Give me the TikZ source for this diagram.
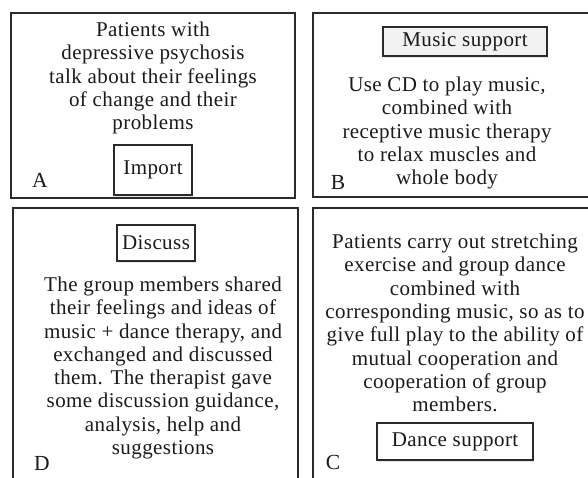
\documentclass[tikz,border=0pt]{standalone}
\usepackage{fontspec}
\setmainfont[LetterSpace=2]{Liberation Serif}
\usetikzlibrary{shadows}
\definecolor{boxline}{HTML}{2B2B2B}
\definecolor{txt}{HTML}{1A1A1A}
\definecolor{tagfill}{HTML}{F2F2F2}
\definecolor{shadowc}{HTML}{C9D6E8}
\begin{document}
\begin{tikzpicture}[x=1pt,y=-1pt,
  panel/.style={draw=boxline,line width=1.3pt},
  body/.style={align=center,text=txt,inner sep=0pt,font=\fontsize{21}{23.3}\selectfont},
  tag/.style={draw=boxline,line width=1.2pt,fill=white,text=txt,inner sep=0pt,
    font=\fontsize{21}{23.3}\selectfont,
    drop shadow={shadow xshift=1pt,shadow yshift=-2pt,fill=shadowc,opacity=0.6}},
  letter/.style={text=txt,inner sep=0pt,font=\fontsize{21.5}{24}\selectfont}]
\useasboundingbox (0,0) rectangle (588,477);
\clip (0,0) rectangle (588,477);
% panels
\draw[panel] (11,13) rectangle (295,198);
\draw[panel] (313,13) rectangle (600,197);
\draw[panel] (13,208) rectangle (298,495);
\draw[panel] (313,208) rectangle (600,495);
% panel A
\node[body] (ta) at (153,78) {Patients with\\depressive psychosis\\talk about their feelings\\of change and their\\problems};
\node[tag,minimum width=78pt,minimum height=50pt] (imp) at (153,170) {Import};
\node[letter] (la) at (40,180) {A};
% panel B
\node[tag,fill=tagfill,minimum width=164pt,minimum height=29pt] (mus) at (465,41.5) {Music support};
\node[body] (tb) at (447,133) {Use CD to play music,\\combined with\\receptive music therapy\\to relax muscles and\\whole body};
\node[letter] (lb) at (338,182) {B};
% panel D
\node[tag,minimum width=78pt,minimum height=36pt] (dis) at (156,243) {Discuss};
\node[body] (td) at (163,368) {The group members shared\\their feelings and ideas of\\music + dance therapy, and\\exchanged and discussed\\them. The therapist gave\\some discussion guidance,\\analysis, help and\\suggestions};
\node[letter] (ld) at (42,463) {D};
% panel C
\node[body] (tc) at (455,323) {Patients carry out stretching\\exercise and group dance\\combined with\\corresponding music, so as to\\give full play to the ability of\\mutual cooperation and\\cooperation of group\\members.};
\node[tag,minimum width=156pt,minimum height=37pt] (dan) at (455,441.5) {Dance support};
\node[letter] (lc) at (333,462) {C};
\end{tikzpicture}
\end{document}
